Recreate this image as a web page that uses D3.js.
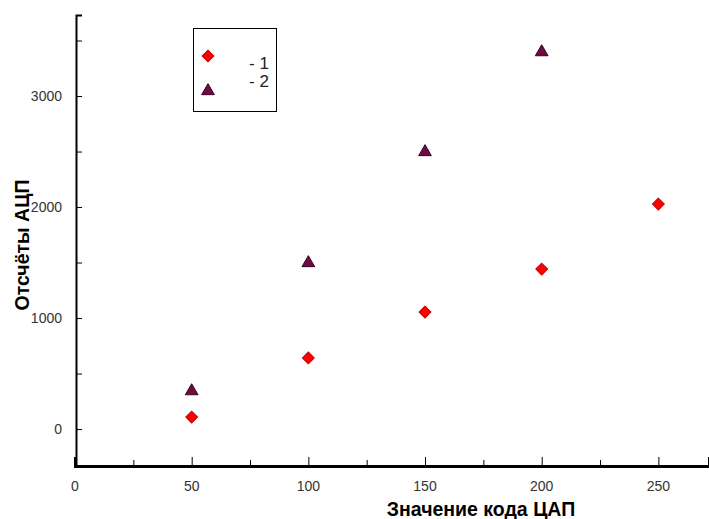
<!DOCTYPE html>
<html>
<head>
<meta charset="utf-8">
<script src="https://cdn.jsdelivr.net/npm/d3@7"></script>
<style>
  body { margin: 0; background: #fff; }
  text { font-family: "Liberation Sans", Arial, sans-serif; }
</style>
</head>
<body>
<div id="chart"></div>
<script>
// data
var codes1 = [50, 100, 150, 200, 250];
var counts1 = [108, 640, 1054, 1441, 2027];
var codes2 = [50, 100, 150, 200];
var counts2 = [351, 1505, 2505, 3405];
var xTicks = [0, 50, 100, 150, 200, 250];
var xMinor = [25, 75, 125, 175, 225];
var yTicks = [0, 1000, 2000, 3000];
var yMinor = [500, 1500, 2500, 3500];
var legendLabels = ["- 1", "- 2"];

var svgWidth = 709;
var svgHeight = 519;

var svg = d3.select("#chart")
  .append("svg")
  .attr("width", svgWidth)
  .attr("height", svgHeight);

var xScale = d3.scaleLinear().domain([0, 271.7]).range([75, 709]);
var yScale = d3.scaleLinear().domain([-333, 3730]).range([466, 15]);

// y axis, ticks pointing inside
var yAxis = svg.append("g")
  .attr("transform", "translate(76,0)")
  .call(d3.axisRight(yScale).tickValues(yTicks.concat(yMinor)).tickSize(6).tickFormat(""));
yAxis.select(".domain").attr("stroke", "#000").attr("stroke-width", 2);
yAxis.selectAll(".tick line").attr("stroke", "#000");

svg.append("g").selectAll("text")
  .data(yTicks)
  .enter()
  .append("text")
  .attr("x", 62)
  .attr("y", d => yScale(d) + 5)
  .attr("text-anchor", "end")
  .attr("font-size", "14px")
  .attr("fill", "#333")
  .text(d => d);

// x axis, ticks pointing up
var xAxis = svg.append("g")
  .attr("transform", "translate(0,466)")
  .call(d3.axisTop(xScale).tickValues(xTicks).tickSize(9).tickFormat(""));
xAxis.select(".domain").attr("stroke", "#000").attr("stroke-width", 3);
xAxis.selectAll(".tick line").attr("stroke", "#000");

svg.append("g")
  .attr("transform", "translate(0,466)")
  .call(d3.axisTop(xScale).tickValues(xMinor).tickSize(6).tickFormat(""))
  .call(g => g.select(".domain").remove())
  .selectAll(".tick line").attr("stroke", "#000");

svg.append("g").selectAll("text")
  .data(xTicks)
  .enter()
  .append("text")
  .attr("x", d => xScale(d))
  .attr("y", 491)
  .attr("text-anchor", "middle")
  .attr("font-size", "14px")
  .attr("fill", "#333")
  .text(d => d);

// axis titles
svg.append("text")
  .attr("x", 481)
  .attr("y", 516)
  .attr("text-anchor", "middle")
  .attr("font-size", "19.5px")
  .attr("font-weight", "bold")
  .text("Значение кода ЦАП");

svg.append("text")
  .attr("transform", "translate(29,245) rotate(-90)")
  .attr("text-anchor", "middle")
  .attr("font-size", "19.5px")
  .attr("font-weight", "bold")
  .text("Отсчёты АЦП");

// markers
var diamond = d3.symbol().type(d3.symbolSquare).size(70);
var triangle = d3.symbol().type(d3.symbolTriangle).size(70);

svg.append("g").selectAll("path")
  .data(codes2)
  .enter()
  .append("path")
  .attr("d", triangle)
  .attr("transform", (d, i) => `translate(${xScale(d)},${yScale(counts2[i]) + 1})`)
  .attr("fill", "#6e0c42")
  .attr("stroke", "#3a0020")
  .attr("stroke-width", 1);

svg.append("g").selectAll("path")
  .data(codes1)
  .enter()
  .append("path")
  .attr("d", diamond)
  .attr("transform", (d, i) => `translate(${xScale(d)},${yScale(counts1[i])}) rotate(45)`)
  .attr("fill", "#ff0000")
  .attr("stroke", "#c00000")
  .attr("stroke-width", 1);

// legend
var legend = svg.append("g");
legend.append("rect")
  .attr("x", 193.5)
  .attr("y", 28.5)
  .attr("width", 83)
  .attr("height", 83)
  .attr("fill", "#fff")
  .attr("stroke", "#000")
  .attr("stroke-width", 1);

legend.append("path")
  .attr("d", diamond)
  .attr("transform", "translate(208,56) rotate(45)")
  .attr("fill", "#ff0000")
  .attr("stroke", "#c00000");

legend.append("path")
  .attr("d", triangle)
  .attr("transform", "translate(208,91)")
  .attr("fill", "#6e0c42")
  .attr("stroke", "#3a0020");

legend.selectAll("text.lab")
  .data(legendLabels)
  .enter()
  .append("text")
  .attr("class", "lab")
  .attr("x", 249)
  .attr("y", (d, i) => 69 + i * 18)
  .attr("font-size", "17px")
  .attr("fill", "#222")
  .text(d => d);
</script>
</body>
</html>
